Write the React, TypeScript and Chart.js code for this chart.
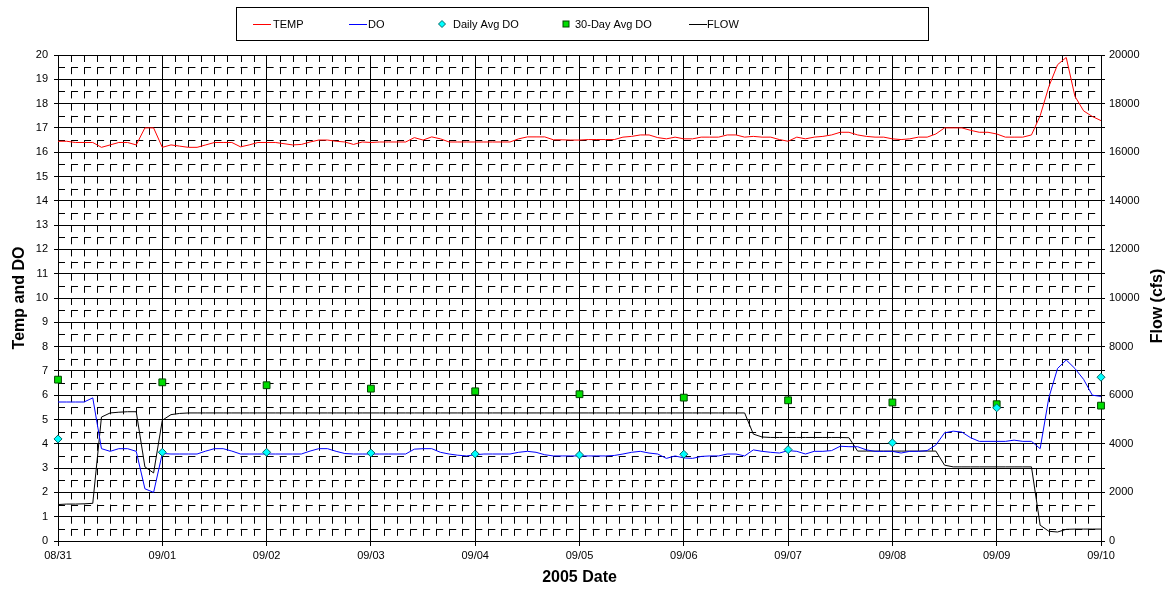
import React, { useEffect, useRef } from 'react';
import { Chart, registerables } from 'chart.js';

Chart.register(...registerables);

// ---- data ----
const DATE_LABELS = ['08/31', '09/01', '09/02', '09/03', '09/04', '09/05', '09/06', '09/07', '09/08', '09/09', '09/10'];
const SAMPLES_PER_DAY = 12; // one reading every 2 hours
const FLOW_TITLE = 'Flow (cfs)';

const TEMP = [
  16.45, 16.45, 16.4, 16.4, 16.4, 16.2, 16.3, 16.4, 16.4, 16.3, 17.0, 17.0,
  16.2, 16.3, 16.25, 16.2, 16.2, 16.3, 16.4, 16.4, 16.4, 16.22, 16.3, 16.4,
  16.4, 16.4, 16.35, 16.3, 16.32, 16.42, 16.5, 16.5, 16.45, 16.42, 16.32, 16.42,
  16.4, 16.42, 16.42, 16.42, 16.42, 16.6, 16.5, 16.63, 16.55, 16.42, 16.42, 16.42,
  16.42, 16.42, 16.42, 16.42, 16.42, 16.55, 16.63, 16.63, 16.63, 16.51, 16.51, 16.5,
  16.5, 16.52, 16.52, 16.52, 16.52, 16.62, 16.65, 16.71, 16.71, 16.6, 16.55, 16.62,
  16.55, 16.55, 16.62, 16.62, 16.62, 16.71, 16.71, 16.62, 16.65, 16.62, 16.62, 16.52,
  16.45, 16.62, 16.55, 16.62, 16.65, 16.71, 16.82, 16.82, 16.71, 16.65, 16.62, 16.62,
  16.55, 16.52, 16.55, 16.62, 16.62, 16.75, 17.0, 17.0, 17.0, 16.9, 16.82, 16.82,
  16.75, 16.62, 16.62, 16.62, 16.71, 17.5, 18.7, 19.6, 19.9, 18.3, 17.7, 17.47,
  17.3,
];

const DO = [
  5.72, 5.72, 5.72, 5.72, 5.89, 3.8, 3.69, 3.8, 3.8, 3.69, 2.15, 2.0,
  3.6, 3.58, 3.58, 3.58, 3.58, 3.7, 3.8, 3.8, 3.7, 3.58, 3.58, 3.58,
  3.58, 3.58, 3.58, 3.58, 3.58, 3.7, 3.8, 3.8, 3.69, 3.6, 3.58, 3.58,
  3.58, 3.58, 3.58, 3.58, 3.58, 3.78, 3.8, 3.8, 3.65, 3.58, 3.53, 3.5,
  3.55, 3.58, 3.58, 3.58, 3.58, 3.65, 3.69, 3.65, 3.55, 3.5, 3.5, 3.5,
  3.5, 3.5, 3.5, 3.5, 3.52, 3.58, 3.65, 3.69, 3.62, 3.58, 3.4, 3.5,
  3.42, 3.4, 3.48, 3.5, 3.5, 3.58, 3.58, 3.5, 3.75, 3.69, 3.65, 3.62,
  3.72, 3.69, 3.58, 3.69, 3.69, 3.72, 3.9, 3.88, 3.88, 3.75, 3.69, 3.69,
  3.69, 3.62, 3.69, 3.69, 3.72, 3.95, 4.45, 4.52, 4.48, 4.25, 4.1, 4.1,
  4.1, 4.1, 4.15, 4.1, 4.1, 3.8, 5.9, 7.1, 7.45, 7.1, 6.65, 6.0,
  5.95,
];

const FLOW = [
  1500, 1520, 1520, 1530, 1550, 5100, 5270, 5300, 5320, 5320, 3050, 2800,
  4970, 5200, 5250, 5270, 5270, 5270, 5270, 5270, 5270, 5270, 5270, 5270,
  5270, 5270, 5270, 5270, 5270, 5270, 5270, 5270, 5270, 5270, 5270, 5270,
  5270, 5270, 5270, 5270, 5270, 5270, 5270, 5270, 5270, 5270, 5270, 5270,
  5270, 5270, 5270, 5270, 5270, 5270, 5270, 5270, 5270, 5270, 5270, 5270,
  5270, 5270, 5270, 5270, 5270, 5270, 5270, 5270, 5270, 5270, 5270, 5270,
  5270, 5270, 5270, 5270, 5270, 5270, 5270, 5270, 4400, 4280, 4260, 4260,
  4260, 4260, 4260, 4260, 4260, 4260, 4260, 4250, 3700, 3700, 3700, 3700,
  3700, 3700, 3700, 3700, 3700, 3700, 3120, 3050, 3050, 3050, 3050, 3050,
  3050, 3050, 3050, 3050, 3050, 650, 400, 370, 480, 490, 490, 490,
  490,
];

const DAILY_AVG_DO = [4.2, 3.65, 3.65, 3.62, 3.58, 3.54, 3.57, 3.76, 4.04, 5.48, 6.74];
const AVG30_DO = [6.64, 6.53, 6.41, 6.27, 6.16, 6.04, 5.9, 5.79, 5.7, 5.63, 5.57];

const FONT = '"Liberation Sans", Arial, Helvetica, sans-serif';

const toSeries = (arr: number[]) => arr.map((v, i) => ({ x: i / SAMPLES_PER_DAY, y: v }));
const toDaily = (arr: number[]) => arr.map((v, i) => ({ x: i, y: v }));

// dashed minor grid (3-hour verticals, half-unit horizontals)
const minorGrid = {
  id: 'minorGrid',
  beforeDatasetsDraw(chart: any) {
    const { ctx, chartArea: a, scales } = chart;
    const x = scales.x;
    const y = scales.y;
    ctx.save();
    ctx.beginPath();
    ctx.rect(a.left, a.top, a.right - a.left, a.bottom - a.top);
    ctx.clip();
    ctx.strokeStyle = '#000';
    ctx.lineWidth = 1;
    ctx.setLineDash([7, 6.04]);
    for (let v = 0.5; v < 20; v += 1) {
      const py = Math.round(y.getPixelForValue(v)) + 0.5;
      ctx.beginPath();
      ctx.moveTo(a.left, py);
      ctx.lineTo(a.right, py);
      ctx.stroke();
    }
    ctx.setLineDash([7, 5.15]);
    for (let k = 1; k < 80; k++) {
      if (k % 8 === 0) continue;
      const px = Math.round(x.getPixelForValue(k / 8)) + 0.5;
      ctx.beginPath();
      ctx.moveTo(px, a.top);
      ctx.lineTo(px, a.bottom);
      ctx.stroke();
    }
    ctx.restore();
  },
};

// secondary axis title, reading bottom-to-top like the primary one
const flowTitle = {
  id: 'flowTitle',
  afterDraw(chart: any) {
    const { ctx, chartArea: a } = chart;
    ctx.save();
    ctx.translate(1158, (a.top + a.bottom) / 2 + 8);
    ctx.rotate(-Math.PI / 2);
    ctx.font = 'bold 16px ' + FONT;
    ctx.fillStyle = '#000';
    ctx.textAlign = 'center';
    ctx.textBaseline = 'middle';
    ctx.fillText(FLOW_TITLE, 0, 0);
    ctx.restore();
  },
};

// boxed legend at the top
const legendBox = {
  id: 'legendBox',
  afterDraw(chart: any) {
    const { ctx } = chart;
    const ds = chart.data.datasets;
    ctx.save();
    ctx.strokeStyle = '#000';
    ctx.lineWidth = 1;
    ctx.strokeRect(236.5, 7.5, 692, 33);
    ctx.font = '11px ' + FONT;
    ctx.fillStyle = '#000';
    ctx.textBaseline = 'middle';
    const cy = 24;
    const items = [
      { i: 0, kind: 'line', x0: 253, tx: 273 },
      { i: 1, kind: 'line', x0: 349, tx: 368 },
      { i: 2, kind: 'diamond', x0: 442, tx: 453 },
      { i: 3, kind: 'square', x0: 566, tx: 575 },
      { i: 4, kind: 'line', x0: 689, tx: 707 },
    ];
    for (const it of items) {
      const d = ds[it.i];
      if (it.kind === 'line') {
        ctx.strokeStyle = d.borderColor;
        ctx.beginPath();
        ctx.moveTo(it.x0, cy + 0.5);
        ctx.lineTo(it.x0 + 18, cy + 0.5);
        ctx.stroke();
      } else if (it.kind === 'diamond') {
        ctx.fillStyle = d.backgroundColor;
        ctx.strokeStyle = d.borderColor;
        ctx.beginPath();
        ctx.moveTo(it.x0, cy - 3.5);
        ctx.lineTo(it.x0 + 3.5, cy);
        ctx.lineTo(it.x0, cy + 3.5);
        ctx.lineTo(it.x0 - 3.5, cy);
        ctx.closePath();
        ctx.fill();
        ctx.stroke();
      } else {
        ctx.fillStyle = d.backgroundColor;
        ctx.strokeStyle = d.borderColor;
        ctx.fillRect(it.x0 - 3, cy - 3, 6, 6);
        ctx.strokeRect(it.x0 - 3, cy - 3, 6, 6);
      }
      ctx.fillStyle = '#000';
      ctx.fillText(d.label, it.tx, cy + 0.5);
    }
    ctx.restore();
  },
};

export default function App() {
  const ref = useRef<HTMLCanvasElement>(null);

  useEffect(() => {
    if (!ref.current) return;
    Chart.defaults.font.family = FONT;
    const chart = new Chart(ref.current, {
      type: 'line',
      data: {
        datasets: [
          {
            label: 'TEMP',
            data: toSeries(TEMP),
            borderColor: '#FF0000',
            backgroundColor: '#FF0000',
            borderWidth: 1,
            pointRadius: 0,
            yAxisID: 'y',
            order: 2,
          },
          {
            label: 'DO',
            data: toSeries(DO),
            borderColor: '#0000FF',
            backgroundColor: '#0000FF',
            borderWidth: 1,
            pointRadius: 0,
            yAxisID: 'y',
            order: 1,
          },
          {
            label: 'Daily Avg DO',
            data: toDaily(DAILY_AVG_DO),
            showLine: false,
            pointStyle: 'rectRot',
            pointRadius: 4,
            backgroundColor: '#00FFFF',
            borderColor: '#006666',
            borderWidth: 1,
            yAxisID: 'y',
            clip: false,
            order: 0,
          },
          {
            label: '30-Day Avg DO',
            data: toDaily(AVG30_DO),
            showLine: false,
            pointStyle: 'rect',
            pointRadius: 4.8,
            backgroundColor: '#00DD00',
            borderColor: '#004400',
            borderWidth: 1,
            yAxisID: 'y',
            clip: false,
            order: 0,
          },
          {
            label: 'FLOW',
            data: toSeries(FLOW),
            borderColor: '#000000',
            backgroundColor: '#000000',
            borderWidth: 1,
            pointRadius: 0,
            yAxisID: 'y1',
            order: 3,
          },
        ],
      } as any,
      options: {
        animation: false,
        responsive: false,
        maintainAspectRatio: false,
        layout: { padding: { top: 55, left: 0, right: 0, bottom: 0 } },
        plugins: {
          legend: { display: false },
          tooltip: { enabled: false },
        },
        scales: {
          x: {
            type: 'linear',
            min: 0,
            max: 10,
            afterFit: (s: any) => { s.height = 52; },
            ticks: {
              stepSize: 1,
              autoSkip: false,
              maxRotation: 0,
              color: '#000',
              font: { size: 11 },
              padding: 3,
              callback: (v: any) => DATE_LABELS[Math.round(Number(v))] ?? '',
            },
            grid: { color: '#000', lineWidth: 1, tickLength: 5, tickColor: '#000' },
            border: { color: '#000' },
            title: {
              display: true,
              text: '2005 Date',
              color: '#000',
              font: { size: 16, weight: 'bold' },
              padding: { top: 0, bottom: 6 },
            },
          },
          y: {
            position: 'left',
            min: 0,
            max: 20,
            afterFit: (s: any) => { s.width = 58; },
            ticks: { stepSize: 1, color: '#000', font: { size: 11 }, padding: 6 },
            grid: { color: '#000', lineWidth: 1, tickLength: 4, tickColor: '#000' },
            border: { color: '#000' },
            title: {
              display: true,
              text: 'Temp and DO',
              color: '#000',
              font: { size: 16, weight: 'bold' },
              padding: { top: 10, bottom: 0 },
            },
          },
          y1: {
            position: 'right',
            min: 0,
            max: 20000,
            afterFit: (s: any) => { s.width = 75; },
            ticks: {
              stepSize: 1000,
              autoSkip: false,
              color: '#000',
              font: { size: 11 },
              padding: 4,
              callback: (v: any) => (Number(v) % 2000 === 0 ? String(v) : ''),
            },
            grid: { drawOnChartArea: false, tickLength: 4, tickColor: '#000', color: '#000' },
            border: { color: '#000' },
            title: { display: false, text: FLOW_TITLE },
          },
        },
      } as any,
      plugins: [minorGrid, legendBox, flowTitle],
    });
    return () => chart.destroy();
  }, []);

  return (
    <div style={{ position: 'fixed', left: 0, top: 0, width: 1176, height: 593, background: '#fff' }}>
      <canvas ref={ref} width={1176} height={593} />
    </div>
  );
}
